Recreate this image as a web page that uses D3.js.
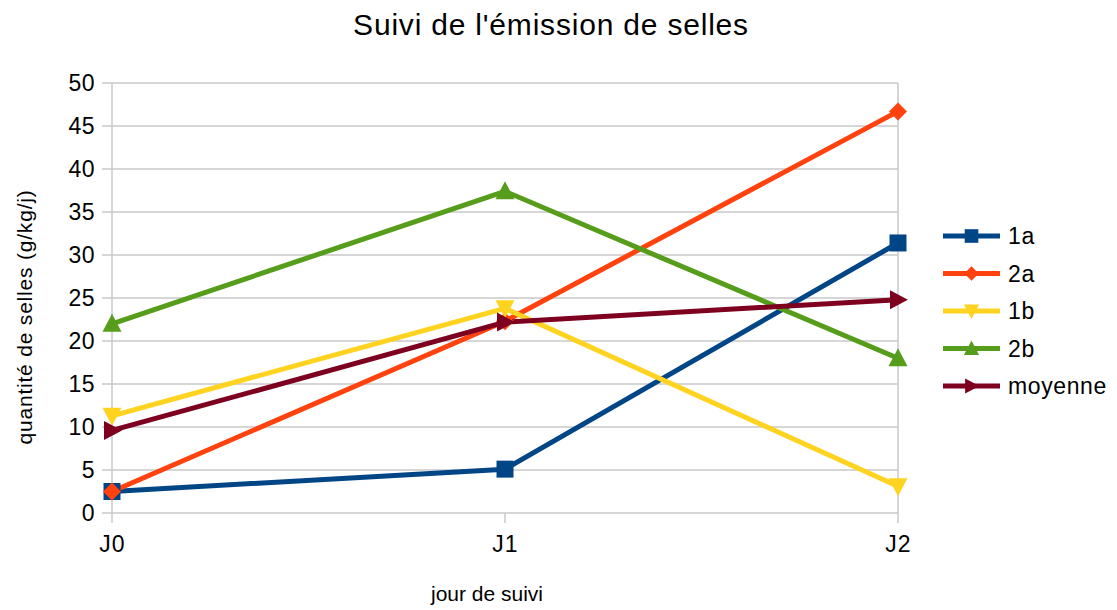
<!DOCTYPE html>
<html>
<head>
<meta charset="utf-8">
<script src="https://cdn.jsdelivr.net/npm/d3@7"></script>
<style>
    body { margin: 0; background: #fff; }
    text { font-family: "Liberation Sans", Arial, sans-serif; fill: #000; }
</style>
</head>
<body>
<div id="chart"></div>
<script>
// data
var days = ["J0", "J1", "J2"];
var serie1a = [2.5, 5.1, 31.4];
var serie2a = [2.5, 22.3, 46.7];
var serie1b = [11.3, 23.8, 3.1];
var serie2b = [22.0, 37.4, 18.0];
var serieMoyenne = [9.6, 22.2, 24.8];
var yTicks = [0, 5, 10, 15, 20, 25, 30, 35, 40, 45, 50];

var series = [
    { name: "1a", values: serie1a, color: "#004586", marker: "square" },
    { name: "2a", values: serie2a, color: "#ff420e", marker: "diamond" },
    { name: "1b", values: serie1b, color: "#ffd320", marker: "down" },
    { name: "2b", values: serie2b, color: "#579d1c", marker: "up" },
    { name: "moyenne", values: serieMoyenne, color: "#7e0021", marker: "right" }
];

var width = 1117, height = 610;
var plotLeft = 112, plotRight = 898, plotTop = 83, plotBottom = 513;

var svg = d3.select("#chart")
    .append("svg")
    .attr("width", width)
    .attr("height", height);

var xScale = d3.scalePoint().domain(days).range([plotLeft, plotRight]);
var yScale = d3.scaleLinear().domain([0, 50]).range([plotBottom, plotTop]);

// gridlines
svg.append("g")
    .selectAll("line")
    .data(yTicks)
    .enter()
    .append("line")
    .attr("x1", plotLeft - 10)
    .attr("x2", plotRight)
    .attr("y1", function (d) { return yScale(d); })
    .attr("y2", function (d) { return yScale(d); })
    .attr("stroke", "#c8c8c8")
    .attr("stroke-width", 1.5);

// vertical lines at categories (axis + right border + tick)
svg.append("g")
    .selectAll("line")
    .data(days)
    .enter()
    .append("line")
    .attr("x1", function (d) { return xScale(d); })
    .attr("x2", function (d) { return xScale(d); })
    .attr("y1", function (d, i) { return (i === 1) ? plotBottom : plotTop; })
    .attr("y2", plotBottom + 10)
    .attr("stroke", "#c8c8c8")
    .attr("stroke-width", 1.5);

// y axis labels
var yAxis = d3.axisLeft(yScale).tickValues(yTicks).tickSize(0).tickPadding(17);
var gy = svg.append("g")
    .attr("transform", "translate(" + plotLeft + ",0)")
    .call(yAxis);
gy.select(".domain").remove();
gy.selectAll("text")
    .attr("font-size", "23px")
    .attr("letter-spacing", "0.5px")
    .attr("font-family", "Liberation Sans, Arial, sans-serif")
    .attr("fill", "#000");

// x axis labels
var xAxis = d3.axisBottom(xScale).tickSize(0).tickPadding(23);
var gx = svg.append("g")
    .attr("transform", "translate(0," + plotBottom + ")")
    .call(xAxis);
gx.select(".domain").remove();
gx.selectAll("text")
    .attr("font-size", "23px")
    .attr("letter-spacing", "1px")
    .attr("font-family", "Liberation Sans, Arial, sans-serif")
    .attr("fill", "#000");

// lines
var lineGen = d3.line()
    .x(function (d, i) { return xScale(days[i]); })
    .y(function (d) { return yScale(d); });

function markerPath(type) {
    if (type === "square") return "M-8.5,-8.5L8.5,-8.5L8.5,8.5L-8.5,8.5Z";
    if (type === "diamond") return "M0,-9L9,0L0,9L-9,0Z";
    if (type === "down") return "M-9.5,-8L9.5,-8L0,10Z";
    if (type === "up") return "M0,-10L9.5,8L-9.5,8Z";
    if (type === "right") return "M-8,-9.5L10,0L-8,9.5Z";
}

series.forEach(function (s) {
    svg.append("path")
        .datum(s.values)
        .attr("d", lineGen)
        .attr("fill", "none")
        .attr("stroke", s.color)
        .attr("stroke-width", 5)
        .attr("stroke-linejoin", "round");
});

series.forEach(function (s) {
    svg.append("g")
        .selectAll("path")
        .data(s.values)
        .enter()
        .append("path")
        .attr("d", markerPath(s.marker))
        .attr("transform", function (d, i) {
            return "translate(" + xScale(days[i]) + "," + yScale(d) + ")";
        })
        .attr("fill", s.color);
});

// legend
var legend = svg.append("g").attr("transform", "translate(943,236)");
series.forEach(function (s, i) {
    var row = legend.append("g").attr("transform", "translate(0," + (i * 37.5) + ")");
    row.append("line")
        .attr("x1", 0).attr("x2", 57)
        .attr("y1", 0).attr("y2", 0)
        .attr("stroke", s.color)
        .attr("stroke-width", 5);
    row.append("path")
        .attr("d", markerPath(s.marker))
        .attr("transform", "translate(28.5,0) scale(0.8)")
        .attr("fill", s.color);
    row.append("text")
        .attr("x", 65)
        .attr("y", 8)
        .attr("font-size", "23px")
        .attr("letter-spacing", "0.6px")
        .text(s.name);
});

// titles
svg.append("text")
    .attr("x", 551)
    .attr("y", 35)
    .attr("text-anchor", "middle")
    .attr("font-size", "30px")
    .attr("letter-spacing", "0.8px")
    .text("Suivi de l'émission de selles");

svg.append("text")
    .attr("x", 487)
    .attr("y", 601)
    .attr("text-anchor", "middle")
    .attr("font-size", "21px")
    .text("jour de suivi");

svg.append("text")
    .attr("transform", "translate(32,317) rotate(-90)")
    .attr("text-anchor", "middle")
    .attr("font-size", "21px")
    .attr("letter-spacing", "0.8px")
    .text("quantité de selles (g/kg/j)");
</script>
</body>
</html>
